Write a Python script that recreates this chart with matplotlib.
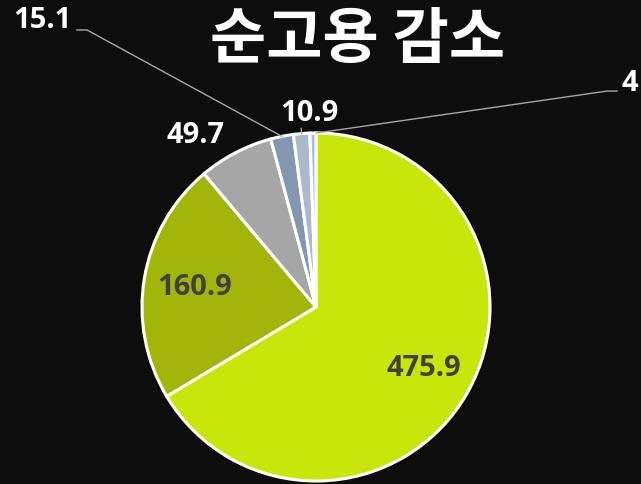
import numpy as np
import matplotlib.pyplot as plt

# data
labels = ["475.9", "160.9", "49.7", "15.1", "10.9", "4"]
values = [475.9, 160.9, 49.7, 15.1, 10.9, 4]
colors = ["#c8e60a", "#a2b60a", "#a6a6a6", "#8497b0", "#adb9ca", "#9dc3e6"]
title = "순고용 감소"

bg = "#0d0d0d"
fig = plt.figure(figsize=(6.41, 4.85), dpi=100, facecolor=bg)
ax = fig.add_axes([142 / 641, 3 / 485, 348 / 641, 348 / 485])
ax.set_facecolor(bg)

wedges, _ = ax.pie(values, colors=colors, startangle=90, counterclock=False,
                   radius=1, wedgeprops=dict(edgecolor="white", linewidth=2.2))
ax.set_xlim(-1, 1)
ax.set_ylim(-1, 1)
ax.set_aspect("equal")
ax.axis("off")

mids = [np.deg2rad((w.theta1 + w.theta2) / 2) for w in wedges]

num_font = dict(family="Open Sans", fontweight="bold", fontsize=21)

# inside labels
for i in [0, 1]:
    r = 0.71
    ax.text(r * np.cos(mids[i]), r * np.sin(mids[i]), labels[i], color="#404040",
            ha="center", va="center", **num_font)

# outside labels
ax.text(-0.695, 0.99, labels[2], color="white", ha="center", va="center", **num_font)
ax.text(-0.04, 1.12, labels[4], color="white", ha="center", va="center", **num_font)
ax.text(-1.575, 1.655, labels[3], color="white", ha="center", va="center", **num_font)
ax.text(1.805, 1.293, labels[5], color="white", ha="center", va="center", **num_font)

# leader lines
lc = dict(color="#a6a6a6", linewidth=1.0, clip_on=False)
m = mids[3]
ax.plot([-1.374, -1.316, np.cos(m)], [1.592, 1.592, np.sin(m)], **lc)
m = mids[5]
ax.plot([1.73, 1.672, np.cos(m) + 0.02], [1.241, 1.241, np.sin(m)], **lc)
m = mids[4]
ax.plot([np.cos(m), 1.03 * np.cos(m)], [np.sin(m), 1.03 * np.sin(m)], **lc)

fig.text(358 / 641, 1 - 40 / 485, title, color="white", fontsize=44, fontweight="bold",
         family=["Noto Sans CJK KR", "DejaVu Sans"], ha="center", va="center")

fig.savefig("out.png", dpi=100, facecolor=bg)
